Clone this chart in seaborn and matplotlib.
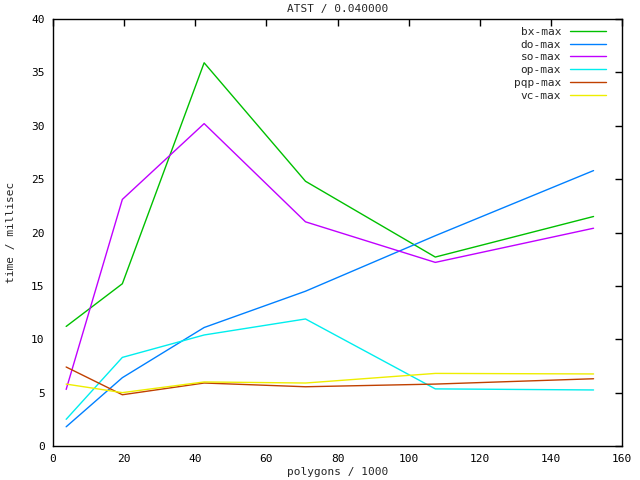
import pandas as pd
import matplotlib
matplotlib.use("Agg")
import matplotlib.pyplot as plt
import seaborn as sns

polygons = [3.7, 19.5, 42.5, 71.0, 107.5, 152.0]
bx_max = [11.2, 15.2, 35.9, 24.8, 17.7, 21.5]
do_max = [1.8, 6.4, 11.1, 14.5, 19.7, 25.8]
so_max = [5.3, 23.1, 30.2, 21.0, 17.2, 20.4]
op_max = [2.5, 8.3, 10.4, 11.9, 5.35, 5.25]
pqp_max = [7.4, 4.8, 5.9, 5.55, 5.8, 6.3]
vc_max = [5.8, 5.0, 6.0, 5.9, 6.8, 6.75]

series = {
    "bx-max": bx_max, "do-max": do_max, "so-max": so_max,
    "op-max": op_max, "pqp-max": pqp_max, "vc-max": vc_max,
}
colors = ["#00c000", "#0080ff", "#c000ff", "#00eeee", "#c04000", "#eeee00"]

df = pd.concat(
    [pd.DataFrame({"polygons": polygons, "time": v, "series": k}) for k, v in series.items()],
    ignore_index=True,
)

sns.set_style("white")
plt.rcParams["font.family"] = ["DejaVu Sans Mono"]

fig = plt.figure(figsize=(6.4, 4.8), dpi=100)
ax = fig.add_axes([53 / 640, 1 - 446 / 480, 569 / 640, 427 / 480])
sns.lineplot(data=df, x="polygons", y="time", hue="series", palette=colors,
             linewidth=1, ax=ax, legend=True)

ax.set_xlim(0, 160)
ax.set_ylim(0, 40)
ax.set_xticks(range(0, 161, 20))
ax.set_yticks(range(0, 41, 5))
ax.tick_params(direction="in", length=5, width=1, top=True, right=True,
               labelsize=8, colors="black", pad=6)
for s in ax.spines.values():
    s.set_visible(True)
    s.set_color("black")
    s.set_linewidth(1)

ax.set_title("ATST / 0.040000", fontsize=8, pad=5)
ax.set_xlabel("polygons / 1000", fontsize=8, labelpad=2)
ax.set_ylabel("time / millisec", fontsize=8, labelpad=11)

handles, labels = ax.get_legend_handles_labels()
ax.legend(handles, labels, loc="upper right", frameon=False, markerfirst=False,
          fontsize=8, handlelength=3.2, labelspacing=0.25, borderaxespad=0.3,
          handletextpad=0.8, borderpad=0.4, bbox_to_anchor=(0.985, 1.0))

fig.savefig("out.png", dpi=100)
